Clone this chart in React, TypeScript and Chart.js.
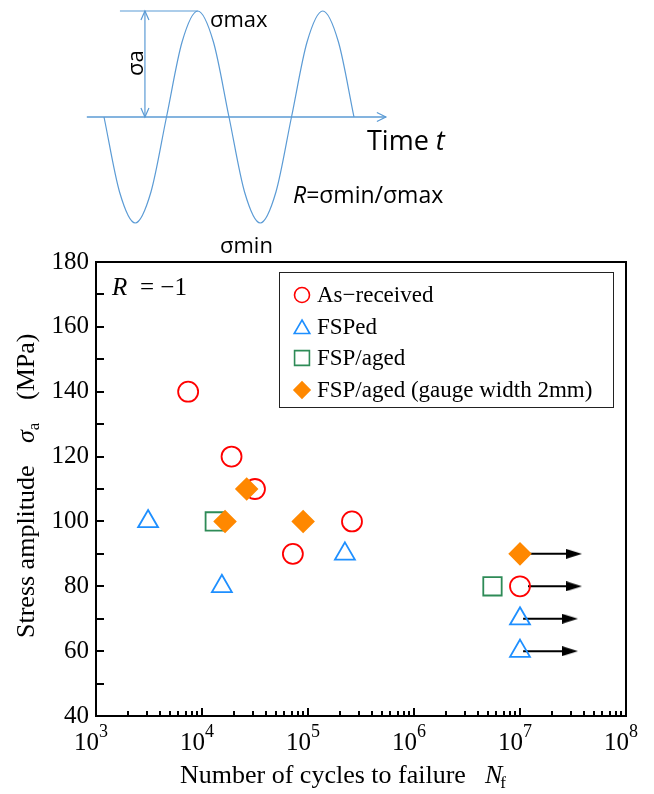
import React, { useEffect, useRef } from 'react';
import { Chart, registerables } from 'chart.js';
import { drawPoint } from 'chart.js/helpers';

Chart.register(...registerables);

// ---------------- Main S-N chart data ----------------
const seriesLabels = ['As\u2212received', 'FSPed', 'FSP/aged', 'FSP/aged (gauge width 2mm)'];

const asReceivedCycles = [7.4e3, 1.9e4, 3.16e4, 7.2e4, 2.6e5, 1.0e7];
const asReceivedStress = [140, 120, 110, 90, 100, 80];

const fspedCycles = [3.1e3, 1.54e4, 2.23e5, 1.0e7, 1.0e7];
const fspedStress = [100, 80, 90, 70, 60];

const fspAgedCycles = [1.32e4, 5.5e6];
const fspAgedStress = [100, 80];

const fspAged2Cycles = [1.65e4, 2.64e4, 9.0e4, 1.0e7];
const fspAged2Stress = [100, 110, 100, 90];

// run-out arrows (specimens that did not fail)
const runoutStress = [90, 80, 70, 60];
const runoutFromCycles = [1.19e7, 1.19e7, 1.07e7, 1.07e7];
const runoutToCycles = [3.23e7, 3.23e7, 2.96e7, 2.96e7];

// axes
const stressMin = 40;
const stressMax = 180;
const stressTicks = [40, 50, 60, 70, 80, 90, 100, 110, 120, 130, 140, 150, 160, 170, 180];
const cyclesMin = 1e3;
const cyclesMax = 1e8;
const cycleDecades = [3, 4, 5, 6, 7, 8];
const minorMultipliers = [2, 3, 4, 5, 6, 7, 8, 9];

// ---------------- Loading diagram (sketch) data ----------------
// x in quarter periods, y in amplitude units
const waveT = [0, 0.5, 1, 1.5, 2, 2.5, 3, 3.5, 4, 4.5, 5, 5.5, 6, 6.5, 7, 7.5, 8];
const waveY = [0, -0.71, -1, -0.71, 0, 0.71, 1, 0.71, 0, -0.71, -1, -0.71, 0, 0.71, 1, 0.71, 0];
const timeAxisT = [-0.55, 9.02];
const timeAxisY = [0, 0];
const peakLineT = [0.51, 3];
const peakLineY = [1, 1];
const amplitudeT = [1.31, 1.31];
const amplitudeY = [0, 1];

const COLORS = {
  red: '#ff0000',
  blue: '#1e8fff',
  green: '#2e8b57',
  orange: '#ff8800',
  diagram: '#5b9bd5',
};

const SERIF = "'Liberation Serif', 'Times New Roman', serif";
const SANS = "'Open Sans', 'Noto Sans', sans-serif";

const pts = (xs: number[], ys: number[]) => xs.map((x, i) => ({ x, y: ys[i] }));

const topDecor = {
  id: 'topDecor',
  afterDraw(chart: any) {
    const { ctx } = chart;
    const xs = chart.scales.x;
    const ys = chart.scales.y;
    const px = (v: number) => xs.getPixelForValue(v);
    const py = (v: number) => ys.getPixelForValue(v);
    ctx.save();
    ctx.strokeStyle = COLORS.diagram;
    ctx.lineWidth = 1.2;
    const ex = px(timeAxisT[1]);
    const ey = py(0);
    ctx.beginPath();
    ctx.moveTo(ex - 9, ey - 4.5);
    ctx.lineTo(ex, ey);
    ctx.lineTo(ex - 9, ey + 4.5);
    const ax = px(amplitudeT[0]);
    const at = py(amplitudeY[1]);
    const ab = py(amplitudeY[0]);
    ctx.moveTo(ax - 4, at + 9);
    ctx.lineTo(ax, at);
    ctx.lineTo(ax + 4, at + 9);
    ctx.moveTo(ax - 4, ab - 9);
    ctx.lineTo(ax, ab);
    ctx.lineTo(ax + 4, ab - 9);
    ctx.stroke();

    ctx.fillStyle = '#000';
    ctx.textAlign = 'left';
    ctx.textBaseline = 'alphabetic';
    ctx.font = `22px ${SANS}`;
    ctx.fillText('\u03c3max', 210, 27);
    ctx.fillText('\u03c3min', 220, 253);

    ctx.font = `27px ${SANS}`;
    ctx.fillText('Time ', 367, 150);
    const tw = ctx.measureText('Time ').width;
    ctx.font = `italic 27px ${SANS}`;
    ctx.fillText('t', 367 + tw, 150);

    ctx.font = `italic 23px ${SANS}`;
    ctx.fillText('R', 293, 203);
    const rw = ctx.measureText('R').width;
    ctx.font = `23px ${SANS}`;
    ctx.fillText('=\u03c3min/\u03c3max', 293 + rw, 203);

    ctx.save();
    ctx.translate(143, 76);
    ctx.rotate(-Math.PI / 2);
    ctx.font = `22px ${SANS}`;
    ctx.fillText('\u03c3a', 0, 0);
    ctx.restore();
    ctx.restore();
  },
};

const legendStyles = [
  { pointStyle: 'circle', radius: 7.5, color: COLORS.red, fill: false },
  { pointStyle: 'triangle', radius: 9, color: COLORS.blue, fill: false },
  { pointStyle: 'rect', radius: 10.5, color: COLORS.green, fill: false },
  { pointStyle: 'rectRot', radius: 8, color: COLORS.orange, fill: true },
];

const mainDecor = {
  id: 'mainDecor',
  afterDraw(chart: any) {
    const { ctx, chartArea: a } = chart;
    const xs = chart.scales.x;
    const ys = chart.scales.y;
    ctx.save();
    // frame
    ctx.strokeStyle = '#000';
    ctx.lineWidth = 2;
    ctx.strokeRect(a.left, a.top, a.right - a.left, a.bottom - a.top);
    // inward ticks
    ctx.beginPath();
    for (const v of stressTicks) {
      const p = Math.round(ys.getPixelForValue(v));
      ctx.moveTo(a.left, p);
      ctx.lineTo(a.left + 8, p);
    }
    for (const d of cycleDecades) {
      for (const m of [1, ...minorMultipliers]) {
        const v = m * Math.pow(10, d);
        if (v > cyclesMax) break;
        const p = Math.round(xs.getPixelForValue(v));
        const len = m === 1 ? 8 : 5;
        ctx.moveTo(p, a.bottom);
        ctx.lineTo(p, a.bottom - len);
      }
    }
    ctx.stroke();

    // x tick labels 10^n
    ctx.fillStyle = '#000';
    ctx.textAlign = 'left';
    ctx.textBaseline = 'alphabetic';
    for (const d of cycleDecades) {
      const p = xs.getPixelForValue(Math.pow(10, d));
      ctx.font = `25px ${SERIF}`;
      ctx.fillText('10', p - 22, a.bottom + 34);
      ctx.font = `18px ${SERIF}`;
      ctx.fillText(String(d), p + 3, a.bottom + 21);
    }

    // x title
    ctx.font = `26px ${SERIF}`;
    ctx.fillText('Number of cycles to failure', 180, a.bottom + 67);
    ctx.font = `italic 26px ${SERIF}`;
    ctx.fillText('N', 485, a.bottom + 67);
    const nw = ctx.measureText('N').width;
    ctx.font = `17px ${SERIF}`;
    ctx.fillText('f', 485 + nw - 2, a.bottom + 72);

    // y title (rotated)
    ctx.save();
    ctx.translate(34, 638 - 235);
    ctx.rotate(-Math.PI / 2);
    ctx.font = `26px ${SERIF}`;
    ctx.fillText('Stress amplitude', 0, 0);
    ctx.font = `italic 26px ${SERIF}`;
    ctx.fillText('\u03c3', 195, 0);
    const sw = ctx.measureText('\u03c3').width;
    ctx.font = `17px ${SERIF}`;
    ctx.fillText('a', 195 + sw, 5);
    ctx.font = `26px ${SERIF}`;
    ctx.fillText('(MPa)', 238, 0);
    ctx.restore();

    // R = -1
    ctx.font = `italic 25px ${SERIF}`;
    ctx.fillText('R', a.left + 16, a.top + 33);
    ctx.font = `25px ${SERIF}`;
    ctx.fillText('= \u22121', a.left + 44, a.top + 33);

    // legend
    const lx = a.left + 183;
    const ly = a.top + 10;
    const lw = 334;
    const lh = 135;
    ctx.fillStyle = '#fff';
    ctx.fillRect(lx, ly, lw, lh);
    ctx.strokeStyle = '#222';
    ctx.lineWidth = 1;
    ctx.strokeRect(lx + 0.5, ly + 0.5, lw, lh);
    const rowYs = [23, 55, 86, 118];
    seriesLabels.forEach((label, i) => {
      const st = legendStyles[i];
      const cy = ly + rowYs[i];
      ctx.strokeStyle = st.color;
      ctx.fillStyle = st.fill ? st.color : 'rgba(0,0,0,0)';
      ctx.lineWidth = 1.6;
      drawPoint(ctx, { pointStyle: st.pointStyle, radius: st.radius, rotation: 0, borderWidth: 1.6 } as any, lx + 23, cy + (st.pointStyle === 'triangle' ? 2 : 0));
      ctx.fillStyle = '#000';
      ctx.font = `23px ${SERIF}`;
      ctx.textBaseline = 'middle';
      ctx.fillText(label, lx + 38, cy + 1);
    });
    ctx.restore();
  },
};

export default function App() {
  const topRef = useRef<HTMLCanvasElement>(null);
  const mainRef = useRef<HTMLCanvasElement>(null);

  useEffect(() => {
    const arrowHead = document.createElement('canvas');
    arrowHead.width = 16;
    arrowHead.height = 10;
    const actx = arrowHead.getContext('2d')!;
    actx.fillStyle = '#000';
    actx.beginPath();
    actx.moveTo(0, 0);
    actx.lineTo(16, 5);
    actx.lineTo(0, 10);
    actx.closePath();
    actx.fill();

    const diagramLine = (data: any, width: number, extra: any = {}) => ({
      data,
      showLine: true,
      borderColor: COLORS.diagram,
      borderWidth: width,
      pointRadius: 0,
      fill: false,
      ...extra,
    });

    const topChart = new Chart(topRef.current!, {
      type: 'scatter',
      data: {
        datasets: [
          diagramLine(pts(waveT, waveY), 1.2, { cubicInterpolationMode: 'monotone' }),
          diagramLine(pts(timeAxisT, timeAxisY), 1.4),
          diagramLine(pts(peakLineT, peakLineY), 1.2),
          diagramLine(pts(amplitudeT, amplitudeY), 1.2),
        ] as any,
      },
      options: {
        responsive: false,
        animation: false,
        events: [],
        layout: { padding: 0 },
        plugins: { legend: { display: false }, tooltip: { enabled: false } },
        scales: {
          x: { type: 'linear', display: false, min: -3.328, max: 17.6 },
          y: { type: 'linear', display: false, min: -1.3491, max: 1.1038 },
        },
      },
      plugins: [topDecor],
    });

    const marker = (label: string, data: any, style: string, radius: number, color: string, filled: boolean, order: number) => ({
      label,
      data,
      pointStyle: style,
      pointRadius: radius,
      pointBorderWidth: 1.8,
      borderColor: color,
      backgroundColor: filled ? color : 'rgba(0,0,0,0)',
      showLine: false,
      order,
    });

    const runouts = runoutStress.map((s, i) => ({
      label: 'runout',
      data: [
        { x: runoutFromCycles[i], y: s },
        { x: runoutToCycles[i], y: s },
      ],
      showLine: true,
      borderColor: '#000',
      borderWidth: 2,
      backgroundColor: '#000',
      pointStyle: arrowHead,
      pointRadius: [0, 5],
      order: 10,
    }));

    const mainChart = new Chart(mainRef.current!, {
      type: 'scatter',
      data: {
        datasets: [
          marker(seriesLabels[0], pts(asReceivedCycles, asReceivedStress), 'circle', 10, COLORS.red, false, 3),
          marker(seriesLabels[1], pts(fspedCycles, fspedStress), 'triangle', 11.5, COLORS.blue, false, 2),
          marker(seriesLabels[2], pts(fspAgedCycles, fspAgedStress), 'rect', 13, COLORS.green, false, 1),
          marker(seriesLabels[3], pts(fspAged2Cycles, fspAged2Stress), 'rectRot', 10.5, COLORS.orange, true, 0),
          ...runouts,
        ] as any,
      },
      options: {
        responsive: false,
        animation: false,
        events: [],
        layout: { padding: { top: 27, right: 28, left: 0, bottom: 0 } },
        plugins: { legend: { display: false }, tooltip: { enabled: false } },
        scales: {
          x: {
            type: 'logarithmic',
            min: cyclesMin,
            max: cyclesMax,
            grid: { display: false, drawTicks: false },
            border: { display: false },
            ticks: { display: false },
            afterFit: (s: any) => {
              s.height = 78;
              s.paddingLeft = 0;
              s.paddingRight = 0;
            },
          },
          y: {
            type: 'linear',
            min: stressMin,
            max: stressMax,
            grid: { display: false, drawTicks: false },
            border: { display: false },
            ticks: {
              stepSize: 10,
              autoSkip: false,
              padding: 7,
              color: '#000',
              font: { family: SERIF, size: 25 },
              callback: (v: any) => (Number(v) % 20 === 0 ? String(v) : ''),
            },
            afterFit: (s: any) => {
              s.width = 96;
              s.paddingTop = 0;
              s.paddingBottom = 0;
            },
          },
        },
      },
      plugins: [mainDecor],
    });

    return () => {
      topChart.destroy();
      mainChart.destroy();
    };
  }, []);

  return (
    <div style={{ position: 'fixed', left: 0, top: 0, width: 654, height: 794, background: '#fff' }}>
      <canvas ref={topRef} width={654} height={260} style={{ position: 'absolute', left: 0, top: 0 }} />
      <canvas ref={mainRef} width={654} height={559} style={{ position: 'absolute', left: 0, top: 235 }} />
    </div>
  );
}
